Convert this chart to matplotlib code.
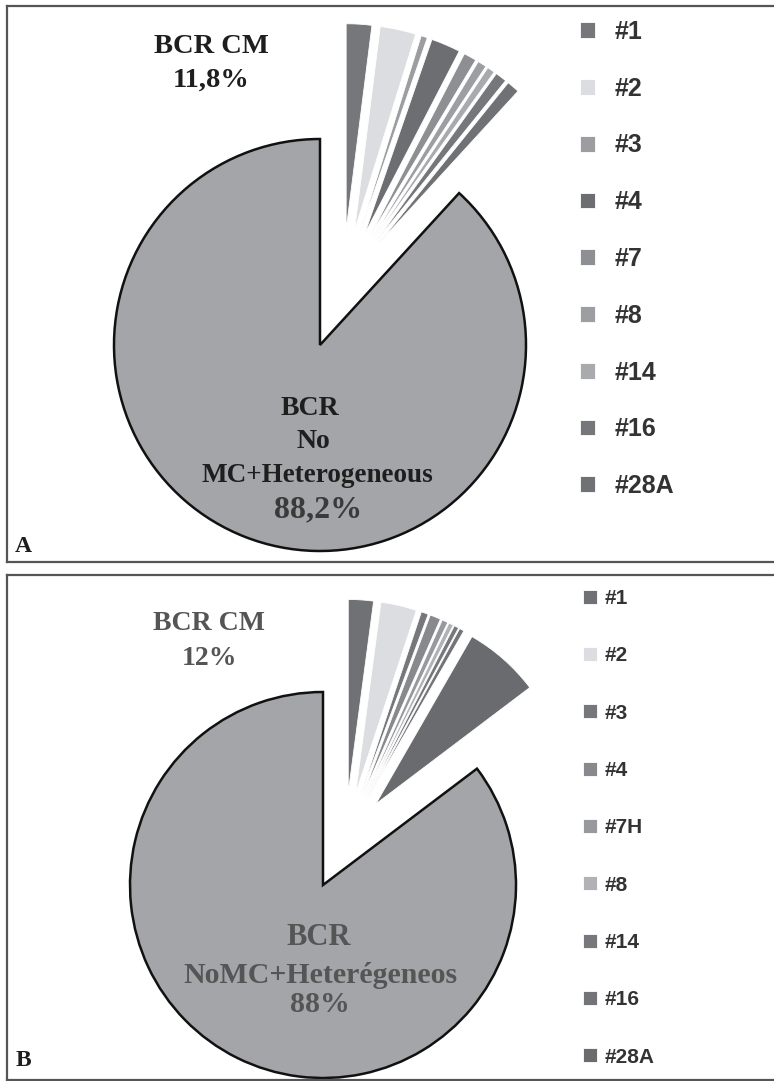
import matplotlib.pyplot as plt

# panel A data (percent of total)
labels_a = ["#1", "#2", "#3", "#4", "#7", "#8", "#14", "#16", "#28A"]
small_a = [2.0, 2.8, 0.5, 2.3, 1.0, 0.7, 0.6, 0.9, 1.0]
main_a = 88.2
colors_a = ["#76777b", "#dcdde0", "#9c9da0", "#6d6e72", "#8e8f93",
            "#9d9ea1", "#a9aaad", "#76777b", "#707175"]

# panel B data
labels_b = ["#1", "#2", "#3", "#4", "#7H", "#8", "#14", "#16", "#28A"]
small_b = [2.1, 3.0, 0.6, 0.9, 0.5, 0.4, 0.4, 0.4, 6.4]
main_b = 85.3
colors_b = ["#707175", "#dcdde0", "#76777b", "#88898d", "#98999c",
            "#b1b2b5", "#77787c", "#737478", "#6a6b6f"]

main_color = "#a4a5a9"
W, H = 774, 1081

fig = plt.figure(figsize=(W / 100, H / 100), dpi=100)


def panel(x0, y0, x1, y1):
    return fig.add_axes([x0 / W, 1 - y1 / H, (x1 - x0) / W, (y1 - y0) / H])


def draw_pie(ax, small, main, colors, shift, expl):
    vals = small + [main]
    cols = colors + [main_color]
    # main slice, centred
    w1, _ = ax.pie(vals, colors=cols, startangle=90, counterclock=False,
                   frame=True)
    for w in w1[:-1]:
        w.set_visible(False)
    w1[-1].set_edgecolor("#111111")
    w1[-1].set_linewidth(1.8)
    # small slices, pulled out
    w2, _ = ax.pie(vals, colors=cols, startangle=90, counterclock=False,
                   center=shift, explode=[expl] * len(small) + [0],
                   wedgeprops=dict(edgecolor="white", linewidth=0.6),
                   frame=True)
    w2[-1].set_visible(False)
    return w2[:-1]


def style_box(ax, xl, yl):
    ax.set_xlim(*xl)
    ax.set_ylim(*yl)
    ax.set_aspect("auto")
    ax.set_xticks([])
    ax.set_yticks([])
    for s in ["left", "top", "bottom"]:
        ax.spines[s].set_color("#555555")
        ax.spines[s].set_linewidth(1.6)
    ax.spines["right"].set_visible(False)


serif = "Liberation Serif"

# ---- panel A ----
axA = panel(7, 6, 774, 562)
cx, cy, r = 320, 345, 206
wa = draw_pie(axA, small_a, main_a, colors_a, (0.11, 0.29), 0.27)
style_box(axA, ((7 - cx) / r, (774 - cx) / r), ((cy - 562) / r, (cy - 6) / r))


def tA(x, y, s, size, color="#1e1e1e"):
    axA.text((x - cx) / r, (cy - y) / r, s, ha="center", va="baseline",
             fontsize=size, fontweight="bold", family=serif, color=color)


tA(211, 53, "BCR CM", 20.5)
tA(211, 87, "11,8%", 20.5)
tA(310, 415, "BCR", 20)
tA(313, 448, "No", 20)
tA(317, 482, "MC+Heterogeneous", 19.5)
tA(318, 517, "88,2%", 23, "#3a3a3a")
tA(23, 552, "A", 17)

axA.legend(wa, labels_a, loc="upper left", bbox_to_anchor=(580 / W, 1 - 20 / H),
           bbox_transform=fig.transFigure, frameon=False, borderpad=0,
           borderaxespad=0,
           prop=dict(family="Liberation Sans", weight="bold", size=18),
           labelcolor="#333333", handlelength=0.6, handleheight=0.6,
           handletextpad=0.8, labelspacing=1.31)

# ---- panel B ----
axB = panel(7, 575, 774, 1080)
cx, cy, r = 323, 885, 193
wb = draw_pie(axB, small_b, main_b, colors_b, (0.115, 0.24), 0.24)
style_box(axB, ((7 - cx) / r, (774 - cx) / r), ((cy - 1080) / r, (cy - 575) / r))


def tB(x, y, s, size, color="#555555", ls=1.2):
    axB.text((x - cx) / r, (cy - y) / r, s, ha="center", va="baseline",
             fontsize=size, fontweight="bold", family=serif, color=color,
             linespacing=ls, multialignment="center")


tB(209, 630, "BCR CM", 20)
tB(209, 665, "12%", 20)
tB(319, 945, "BCR", 22)
tB(320, 1012, "NoMC+Heterégeneos\n88%", 21.5, ls=1.1)
tB(23, 1066, "B", 17, "#1e1e1e")

axB.legend(wb, labels_b, loc="upper left", bbox_to_anchor=(583 / W, 1 - 589 / H),
           bbox_transform=fig.transFigure, frameon=False, borderpad=0,
           borderaxespad=0,
           prop=dict(family="Liberation Sans", weight="bold", size=15),
           labelcolor="#333333", handlelength=0.67, handleheight=0.67,
           handletextpad=0.38, labelspacing=1.84)

fig.savefig("out.png", dpi=100)
